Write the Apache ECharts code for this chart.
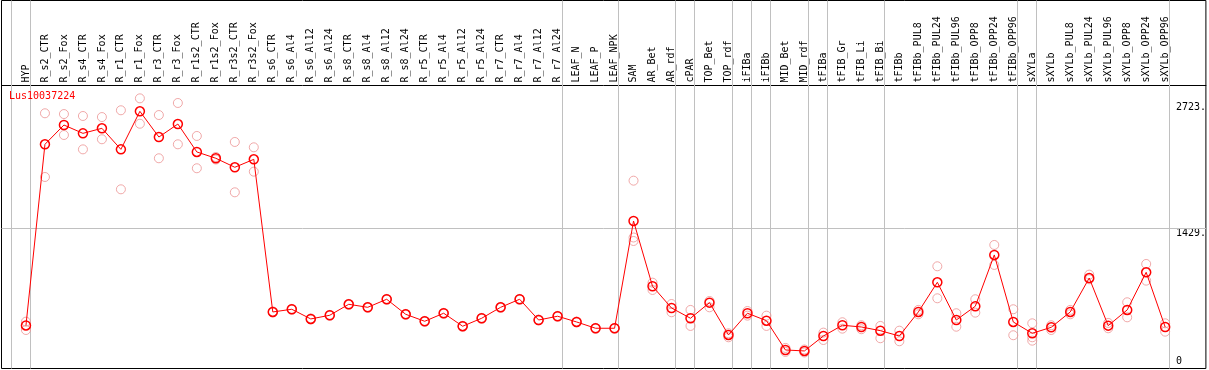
<!DOCTYPE html>
<html><head><meta charset="utf-8">
<script src="https://cdn.jsdelivr.net/npm/echarts@6/dist/echarts.min.js"></script>
<style>html,body{margin:0;padding:0;background:#fff}#c{width:1209px;height:370px}</style>
</head><body><div id="c"></div>
<script>
const geneName = 'Lus10037224';
const categories = ['HYP','R_s2_CTR','R_s2_Fox','R_s4_CTR','R_s4_Fox','R_r1_CTR','R_r1_Fox','R_r3_CTR','R_r3_Fox','R_r1s2_CTR','R_r1s2_Fox','R_r3s2_CTR','R_r3s2_Fox','R_s6_CTR','R_s6_Al4','R_s6_Al12','R_s6_Al24','R_s8_CTR','R_s8_Al4','R_s8_Al12','R_s8_Al24','R_r5_CTR','R_r5_Al4','R_r5_Al12','R_r5_Al24','R_r7_CTR','R_r7_Al4','R_r7_Al12','R_r7_Al24','LEAF_N','LEAF_P','LEAF_NPK','SAM','AR_Bet','AR_rdf','cPAR','TOP_Bet','TOP_rdf','iFIBa','iFIBb','MID_Bet','MID_rdf','tFIBa','tFIB_Gr','tFIB_Li','tFIB_Bi','tFIBb','tFIBb_PUL8','tFIBb_PUL24','tFIBb_PUL96','tFIBb_OPP8','tFIBb_OPP24','tFIBb_OPP96','sXYLa','sXYLb','sXYLb_PUL8','sXYLb_PUL24','sXYLb_PUL96','sXYLb_OPP8','sXYLb_OPP24','sXYLb_OPP96'];
const meanValues = [424,2292,2491,2405,2457,2240,2632,2367,2501,2213,2148,2055,2137,563,591,491,529,642,611,694,539,467,550,416,498,611,694,480,519,460,395,395,1501,828,604,498,659,326,550,473,171,161,315,426,408,370,315,563,869,480,622,1151,460,343,405,563,913,422,584,972,408];
const replicateValues = [[463,377],[2612,1955],[2604,2388],[2584,2240],[2573,2344],[2643,1828],[2766,2504],[2594,2148],[2718,2292],[2378,2045],[2161,2135],[2316,1797],[2261,2010],[568,558],[595,587],[496,486],[533,525],[646,638],[615,607],[698,690],[543,535],[471,463],[554,546],[420,412],[502,494],[615,607],[698,690],[484,476],[523,515],[464,456],[399,391],[399,391],[1917,1331,1295],[865,790],[645,560],[584,419],[676,611],[343,302],[573,525],[525,419],[192,151],[176,145],[350,274],[457,391],[426,385],[419,292],[370,261],[584,539],[1034,704],[550,411],[694,556],[1254,1048],[591,323],[446,302,267],[426,377],[584,539],[948,900],[450,395],[663,508],[1058,886],[446,360]];
const yTickValues = [1429, 2723];
const yTickLabels = ['1429.', '2723.'];
const yZeroValues = [0];
const yZeroLabels = ['0'];
const gridLineValues = [1429];
const groupLastIndex = [-1,0,28,31,34,35,37,38,39,41,42,45,52,53,60];

const FONT = 'DejaVu Sans Mono';
const chart = echarts.init(document.getElementById('c'), null, {renderer: 'canvas'});
const meanData = meanValues.map((v, i) => [i, v]);
const repData = [];
replicateValues.forEach((arr, i) => arr.forEach(v => repData.push([i, v])));
const SEP_OFFSET = 0.22;
const markData = gridLineValues.map(v => ({yAxis: v}))
  .concat(groupLastIndex.map(g => ({xAxis: g + SEP_OFFSET})));

const yAxisBase = {
  type: 'value', position: 'right', offset: -30, min: -20, max: 3775,
  axisLine: {show: false, onZero: false}, axisTick: {show: false}, splitLine: {show: false}
};

chart.setOption({
  animation: false,
  backgroundColor: '#fff',
  title: {
    text: geneName, left: 9, top: 91, padding: 0,
    textStyle: {fontFamily: FONT, fontSize: 10, fontWeight: 'normal', color: '#ff0000'}
  },
  grid: {left: 1.5, top: 0.5, right: 1.5, bottom: 1.5, show: true, borderColor: '#000', borderWidth: 1},
  xAxis: {
    type: 'value', position: 'top', offset: -85,
    min: -1.2887, max: 62.145,
    axisLine: {show: true, onZero: false, lineStyle: {color: '#000', width: 1}},
    axisTick: {show: false}, splitLine: {show: false},
    axisLabel: {
      customValues: categories.map((c, i) => i),
      formatter: v => categories[Math.round(v)],
      rotate: -90, margin: 3, fontFamily: FONT, fontSize: 10, color: '#000',
      hideOverlap: false
    }
  },
  yAxis: [
    Object.assign({}, yAxisBase, {
      axisLabel: {customValues: yTickValues, formatter: v => yTickLabels[yTickValues.indexOf(v)],
        margin: 0, verticalAlign: 'top', align: 'left', fontFamily: FONT, fontSize: 10, color: '#000'}
    }),
    Object.assign({}, yAxisBase, {
      axisLabel: {customValues: yZeroValues, formatter: v => yZeroLabels[yZeroValues.indexOf(v)],
        margin: 0, verticalAlign: 'bottom', align: 'left', fontFamily: FONT, fontSize: 10, color: '#000'}
    })
  ],
  series: [
    {
      type: 'scatter', data: repData, yAxisIndex: 0, z: 2,
      symbol: 'circle', symbolSize: 9,
      itemStyle: {color: 'rgba(0,0,0,0)', borderColor: '#ec9494', borderWidth: 1},
      emphasis: {disabled: true}, silent: true,
      markLine: {
        silent: true, symbol: ['none', 'none'], label: {show: false}, z: 1,
        lineStyle: {color: '#c0c0c0', width: 1, type: 'solid'},
        emphasis: {disabled: true},
        data: markData
      }
    },
    {
      type: 'line', data: meanData, yAxisIndex: 0, z: 3,
      symbol: 'circle', symbolSize: 9, showAllSymbol: true,
      itemStyle: {color: 'rgba(0,0,0,0)', borderColor: '#ff0000', borderWidth: 1.5},
      lineStyle: {color: '#ff0000', width: 1},
      emphasis: {disabled: true}, silent: true
    }
  ]
});
</script></body></html>
